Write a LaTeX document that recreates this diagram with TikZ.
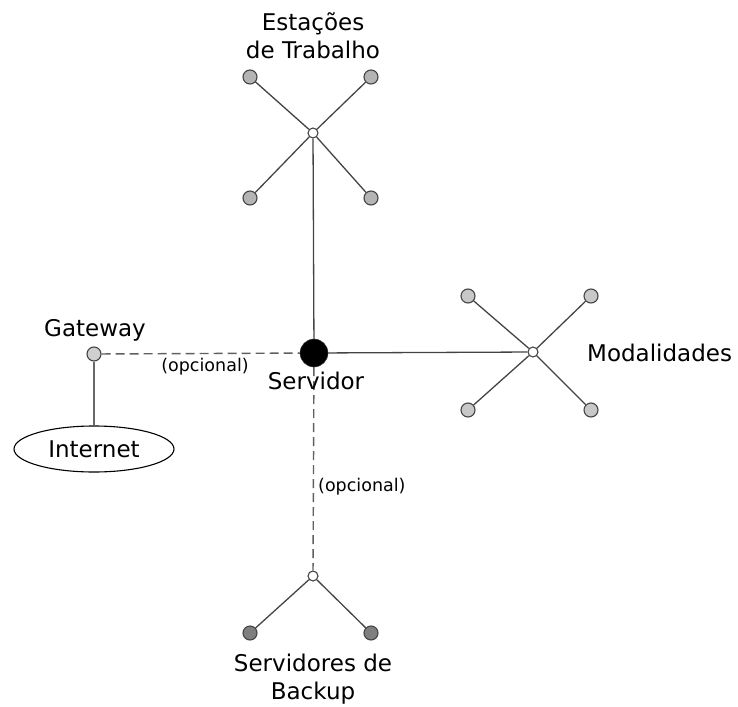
\documentclass[tikz,border=0pt]{standalone}
\usepackage{fontspec}
\setmainfont{DejaVu Sans}
\usetikzlibrary{shapes.geometric}
\definecolor{linec}{HTML}{444444}
\definecolor{wsfill}{HTML}{B4B4B4}
\definecolor{modfill}{HTML}{C8C8C8}
\definecolor{gwfill}{HTML}{D0D0D0}
\definecolor{bkfill}{HTML}{7F7F7F}
\tikzset{
  leaf/.style={circle, draw=linec, line width=1.1pt, minimum size=14pt, inner sep=0pt},
  hub/.style={circle, draw=linec, line width=1.1pt, fill=white, minimum size=10pt, inner sep=0pt},
  conn/.style={draw=linec, line width=1.3pt},
  opt/.style={draw=linec!85, line width=1.4pt, dash pattern=on 9pt off 5pt},
  lbl/.style={font=\fontsize{23}{28}\selectfont, align=center, inner sep=0pt},
  small/.style={font=\fontsize{17.5}{20}\selectfont, inner sep=0pt},
}
\begin{document}
\begin{tikzpicture}[x=1pt,y=-1pt]
\useasboundingbox (0,0) rectangle (738,706);
% server
\node[circle, fill=black, draw=linec, minimum size=28pt, inner sep=0pt] (srv) at (314,353) {};
% workstations
\node[hub] (wh) at (313,133) {};
\node[leaf, fill=wsfill] (w1) at (250,77) {};
\node[leaf, fill=wsfill] (w2) at (371,77) {};
\node[leaf, fill=wsfill] (w3) at (250,198) {};
\node[leaf, fill=wsfill] (w4) at (371,198) {};
% modalities
\node[hub] (mh) at (533,352) {};
\node[leaf, fill=modfill] (m1) at (468,296) {};
\node[leaf, fill=modfill] (m2) at (591,296) {};
\node[leaf, fill=modfill] (m3) at (468,410) {};
\node[leaf, fill=modfill] (m4) at (591,410) {};
% gateway
\node[leaf, fill=gwfill] (gw) at (94,354) {};
\node[ellipse, draw=black, line width=1.1pt, minimum width=160pt, minimum height=46pt, inner sep=0pt, font=\fontsize{23}{28}\selectfont] (inet) at (94,449) {Internet};
% backup
\node[hub] (bh) at (313,576) {};
\node[leaf, fill=bkfill] (b1) at (250,633) {};
\node[leaf, fill=bkfill] (b2) at (371,633) {};
% connectors
\draw[conn] (wh) -- (w1); \draw[conn] (wh) -- (w2);
\draw[conn] (wh) -- (w3); \draw[conn] (wh) -- (w4);
\draw[conn] (mh) -- (m1); \draw[conn] (mh) -- (m2);
\draw[conn] (mh) -- (m3); \draw[conn] (mh) -- (m4);
\draw[conn] (bh) -- (b1); \draw[conn] (bh) -- (b2);
\draw[conn] (srv) -- (wh);
\draw[conn] (srv) -- (mh);
\draw[conn, draw=linec!80] (gw) -- (inet);
\draw[opt] (gw) -- (srv);
\draw[opt] (srv) -- (bh);
% labels
\node[lbl] (lws) at (313,36) {Estações\\de Trabalho};
\node[lbl] (lsrv) at (316,381) {Servidor};
\node[lbl] (lgw) at (95,330) {Gateway};
\node[lbl, anchor=west] (lmod) at (587,353) {Modalidades};
\node[lbl] (lbk) at (313,679) {Servidores de\\Backup};
\node[small] (o1) at (205,367) {(opcional)};
\node[small, anchor=west] (o2) at (318,487) {(opcional)};
\end{tikzpicture}
\end{document}
